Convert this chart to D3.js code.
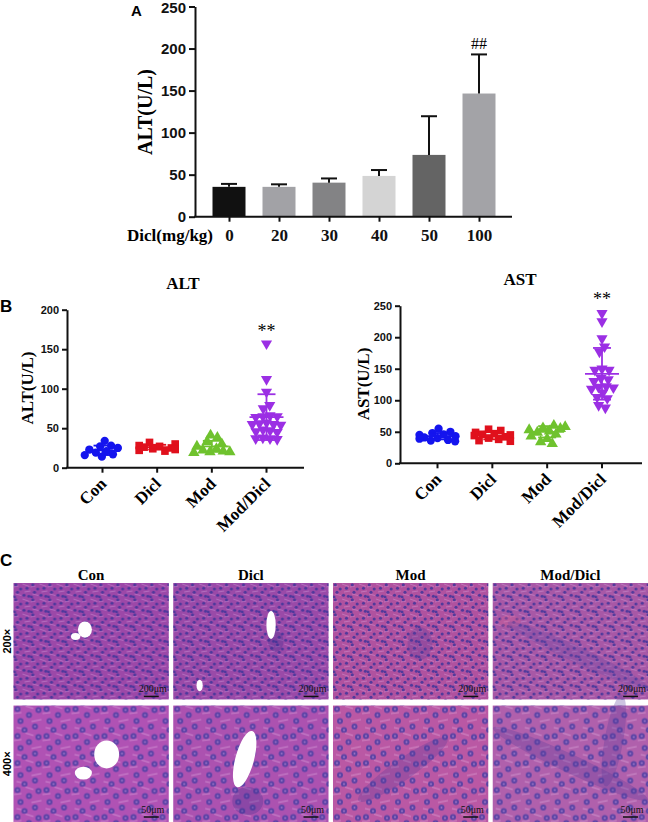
<!DOCTYPE html>
<html>
<head>
<meta charset="utf-8">
<script src="https://cdn.jsdelivr.net/npm/d3@7"></script>
<style>
body { margin: 0; background: #fff; }
svg { display: block; }
</style>
</head>
<body>
<script>
// ---- data ----
// Panel A: ALT by diclofenac dose
const doses = ["0", "20", "30", "40", "50", "100"];
const altDoseMean = [35.5, 35.5, 40.5, 48.5, 73.5, 146.5];
const altDoseSd = [3.5, 3, 5, 7, 46, 46.5];
const doseColors = ["#111111", "#a2a2a6", "#838385", "#d4d4d4", "#646464", "#a3a3a7"];

// Panel B: groups
const groups = ["Con", "Dicl", "Mod", "Mod/Dicl"];
const groupColors = ["#1414ee", "#e0101c", "#6fc22e", "#9b2fe4"];

const altCon = [34, 28, 27, 25, 23, 21, 19, 17, 16, 14];
const altDicl = [32, 30, 28, 27, 26, 25, 24, 23, 22, 21];
const altMod = [41, 38, 33, 30, 27, 24, 22, 21, 20, 20, 19];
const altModDicl = [157, 112, 96, 79, 75, 66, 65, 65, 64, 57, 56, 55, 55, 54, 48, 47, 46, 45, 38, 37, 37, 36];
const altMean = [22, 26, 27, 64];
const altSd = [6, 3, 7, 29];

const astCon = [55, 50, 48, 46, 45, 43, 41, 40, 39, 37, 36, 35];
const astDicl = [54, 52, 49, 47, 46, 45, 44, 42, 40, 38, 36, 35];
const astMod = [60, 58, 56, 55, 53, 51, 49, 46, 43, 39, 34, 31];
const astModDicl = [238, 225, 198, 185, 177, 150, 148, 148, 135, 133, 130, 122, 121, 120, 118, 112, 105, 103, 92, 88];
const astMean = [43, 44, 50, 142];
const astSd = [5, 6, 9, 41];

// Panel C: HE images (magnification rows)
const mags = ["200\u00d7", "400\u00d7"];
const scaleLabels = ["200\u03bcm", "50\u03bcm"];
const tissueBase = [
  ["#9c48a8", "#9a4aa8", "#b0529f", "#a858a6"],
  ["#b052b4", "#ac52b0", "#ba58a4", "#b060ac"]
];

const serif = "'Liberation Serif', 'Times New Roman', serif";
const sans = "'Liberation Sans', Arial, sans-serif";

const width = 648, height = 822;
const svg = d3.select("body").append("svg")
    .attr("width", width)
    .attr("height", height)
    .attr("viewBox", [0, 0, width, height]);

function styleAxis(ax, size) {
    ax.selectAll("path, line").attr("stroke", "#111").attr("stroke-width", 2);
    ax.selectAll("text")
        .style("font-family", sans).style("font-weight", "bold")
        .style("font-size", size + "px").attr("fill", "#111");
}

// ---- Panel A ----
const xA = d3.scalePoint().domain(doses).range([229, 479]);
const yA = d3.scaleLinear().domain([0, 250]).range([216.7, 6.5]);
const barW = 33;

svg.append("g").selectAll("rect")
    .data(doses)
    .enter().append("rect")
    .attr("x", d => xA(d) - barW / 2)
    .attr("y", (d, i) => yA(altDoseMean[i]))
    .attr("width", barW)
    .attr("height", (d, i) => yA(0) - yA(altDoseMean[i]))
    .attr("fill", (d, i) => doseColors[i]);

const errA = svg.append("g").attr("stroke", "#111").attr("stroke-width", 2);
doses.forEach((d, i) => {
    const top = yA(altDoseMean[i] + altDoseSd[i]);
    errA.append("line").attr("x1", xA(d)).attr("x2", xA(d))
        .attr("y1", yA(altDoseMean[i])).attr("y2", top);
    errA.append("line").attr("x1", xA(d) - 8).attr("x2", xA(d) + 8)
        .attr("y1", top).attr("y2", top);
});

const axA = svg.append("g").attr("transform", "translate(195,0)")
    .call(d3.axisLeft(yA).tickValues([0, 50, 100, 150, 200, 250]).tickSize(6).tickSizeOuter(0).tickPadding(3));
styleAxis(axA, 15);
axA.selectAll("text").filter(d => d === 250).attr("dy", "0.42em");

svg.append("line").attr("x1", 194).attr("x2", 512)
    .attr("y1", yA(0)).attr("y2", yA(0)).attr("stroke", "#111").attr("stroke-width", 2);
const axAx = svg.append("g").attr("transform", `translate(0,${yA(0)})`)
    .call(d3.axisBottom(xA).tickSize(5).tickPadding(7));
axAx.select(".domain").remove();
styleAxis(axAx, 17);
axAx.selectAll("text").style("font-family", serif);

svg.append("text").attr("x", 213).attr("y", 241).attr("text-anchor", "end")
    .style("font-family", serif).style("font-weight", "bold").style("font-size", "17px")
    .text("Dicl(mg/kg)");
svg.append("text").attr("x", xA("100")).attr("y", 48.5).attr("text-anchor", "middle")
    .style("font-family", serif).style("font-size", "16px").text("##");
svg.append("text").attr("transform", "translate(151.5,112) rotate(-90)").attr("text-anchor", "middle")
    .style("font-family", serif).style("font-weight", "bold").style("font-size", "20px")
    .text("ALT(U/L)");
svg.append("text").attr("x", 131).attr("y", 16)
    .style("font-family", sans).style("font-weight", "bold").style("font-size", "15px").text("A");

// ---- Panel B ----
const shapes = [d3.symbolCircle, d3.symbolSquare, d3.symbolTriangle, d3.symbolTriangle];
const shapeSizes = [54, 58, 56, 54];

// spread points sideways like a column scatter, with a small fixed-y force layout
function swarm(values, cx, y, r, maxOff) {
    const nodes = values.map((v, i) => ({
        v: v,
        x: cx + (i % 2 ? 1 : -1) * (0.5 + i * 0.25),
        y: y(v),
        fy: y(v)
    }));
    const sim = d3.forceSimulation(nodes)
        .force("x", d3.forceX(cx).strength(0.1))
        .force("collide", d3.forceCollide(r).iterations(3))
        .stop();
    for (let k = 0; k < 300; k++) sim.tick();
    nodes.forEach(d => { d.x = Math.max(cx - maxOff, Math.min(cx + maxOff, d.x)); });
    return nodes;
}

function scatterPanel(o) {
    const g = svg.append("g");
    const y = d3.scaleLinear().domain([0, o.max]).range([o.y0, o.y1]);
    const x = d3.scalePoint().domain(groups).range(o.xr);

    o.series.forEach((vals, i) => {
        const cx = x(groups[i]);
        const nodes = swarm(vals, cx, y, 3.6, 18);
        g.append("g").selectAll("path")
            .data(nodes)
            .enter().append("path")
            .attr("d", d3.symbol().type(shapes[i]).size(shapeSizes[i]))
            .attr("transform", d => `translate(${d.x},${d.y})` + (i === 3 ? " rotate(180)" : ""))
            .attr("fill", groupColors[i]);

        const m = o.mean[i], s = o.sd[i];
        const eg = g.append("g").attr("stroke", groupColors[i]).attr("stroke-width", 1.8);
        eg.append("line").attr("x1", cx - 17).attr("x2", cx + 17).attr("y1", y(m)).attr("y2", y(m));
        eg.append("line").attr("x1", cx).attr("x2", cx).attr("y1", y(m - s)).attr("y2", y(m + s));
        [m - s, m + s].forEach(v => {
            eg.append("line").attr("x1", cx - 9).attr("x2", cx + 9).attr("y1", y(v)).attr("y2", y(v));
        });
    });

    const ay = g.append("g").attr("transform", `translate(${o.ax},0)`)
        .call(d3.axisLeft(y).tickValues(o.ticks).tickSize(5).tickSizeOuter(0).tickPadding(3));
    styleAxis(ay, 11);

    g.append("line").attr("x1", o.ax - 1).attr("x2", o.axEnd)
        .attr("y1", y(0)).attr("y2", y(0)).attr("stroke", "#111").attr("stroke-width", 2);
    g.append("g").selectAll("line")
        .data(groups)
        .enter().append("line")
        .attr("x1", d => x(d)).attr("x2", d => x(d))
        .attr("y1", y(0)).attr("y2", y(0) + 5)
        .attr("stroke", "#111").attr("stroke-width", 2);

    g.append("g").selectAll("text")
        .data(groups)
        .enter().append("text")
        .attr("transform", d => `translate(${x(d) + 5},${y(0) + 17}) rotate(-45)`)
        .attr("text-anchor", "end")
        .style("font-family", serif).style("font-weight", "bold").style("font-size", "17px")
        .text(d => d);

    g.append("text").attr("x", o.titleX).attr("y", o.titleY).attr("text-anchor", "middle")
        .style("font-family", serif).style("font-weight", "bold").style("font-size", "17px")
        .text(o.title);
    g.append("text").attr("transform", `translate(${o.ylabX},${o.ylabY}) rotate(-90)`)
        .attr("text-anchor", "middle")
        .style("font-family", serif).style("font-weight", "bold").style("font-size", "17px")
        .text(o.title + "(U/L)");
    g.append("text").attr("x", x("Mod/Dicl")).attr("y", o.starY).attr("text-anchor", "middle")
        .style("font-family", serif).style("font-size", "18px").text("**");
}

scatterPanel({
    title: "ALT", max: 200, ticks: [0, 50, 100, 150, 200],
    y0: 467.7, y1: 309.7, xr: [102.5, 266.5], ax: 67, axEnd: 304,
    series: [altCon, altDicl, altMod, altModDicl], mean: altMean, sd: altSd,
    titleX: 183, titleY: 289, ylabX: 33, ylabY: 388, starY: 337
});
scatterPanel({
    title: "AST", max: 250, ticks: [0, 50, 100, 150, 200, 250],
    y0: 463.3, y1: 305.7, xr: [437.5, 602], ax: 400, axEnd: 642,
    series: [astCon, astDicl, astMod, astModDicl], mean: astMean, sd: astSd,
    titleX: 520, titleY: 285, ylabX: 369, ylabY: 384, starY: 305
});

svg.append("text").attr("x", 0).attr("y", 312)
    .style("font-family", sans).style("font-weight", "bold").style("font-size", "17px").text("B");

// ---- Panel C ----
const xC = d3.scaleBand().domain(groups).range([13.5, 648]).paddingInner(0.028);
const yC = d3.scaleBand().domain(mags).range([583, 822]).paddingInner(0.05);

const defs = svg.append("defs");
// small tissue tiles: light sinusoid streaks and nuclei
const p200 = defs.append("pattern").attr("id", "p200").attr("patternUnits", "userSpaceOnUse")
    .attr("width", 17).attr("height", 15);
p200.append("path").attr("d", "M0,4 L5,3 M9,1 L16,3.5 M2,11 L8,12.5 M11,9 L17,8")
    .attr("stroke", "rgba(235,190,240,0.45)").attr("stroke-width", 0.8).attr("fill", "none");
[[2.3, 1.8], [7.2, 6.0], [13.5, 5.2], [4.0, 9.3], [10.5, 12.2], [15.4, 13.3], [1.0, 14.0]].forEach(c => {
    p200.append("circle").attr("cx", c[0]).attr("cy", c[1]).attr("r", 1.55).attr("fill", "#41359a");
});

const p400 = defs.append("pattern").attr("id", "p400").attr("patternUnits", "userSpaceOnUse")
    .attr("width", 29).attr("height", 27);
p400.append("path").attr("d", "M0,8 L8,7 M12,0.5 L20,3 M18,16 L28,14 M3,22 L12,24")
    .attr("stroke", "rgba(240,200,240,0.5)").attr("stroke-width", 1.1).attr("fill", "none");
[[4, 3.6], [15.5, 9.5], [25, 4.5], [7, 15.5], [21.5, 21], [11, 24.5]].forEach(c => {
    p400.append("circle").attr("cx", c[0]).attr("cy", c[1]).attr("r", 3).attr("fill", "#4c3fa4");
    p400.append("circle").attr("cx", c[0]).attr("cy", c[1]).attr("r", 1).attr("fill", "#9a7ccc");
});
defs.append("clipPath").attr("id", "pageClip")
    .append("rect").attr("width", width).attr("height", height);

// decorative tissue features, as fractions of each image
const features = [
    { g: "Con", r: 0, cx: 0.46, cy: 0.40, rx: 0.045, ry: 0.07, fill: "#ffffff" },
    { g: "Con", r: 0, cx: 0.40, cy: 0.46, rx: 0.03, ry: 0.03, fill: "#ffffff" },
    { g: "Dicl", r: 0, cx: 0.66, cy: 0.50, rx: 0.05, ry: 0.09, fill: "#3e3090" },
    { g: "Dicl", r: 0, cx: 0.63, cy: 0.36, rx: 0.03, ry: 0.12, fill: "#ffffff" },
    { g: "Dicl", r: 0, cx: 0.17, cy: 0.88, rx: 0.02, ry: 0.05, fill: "#ffffff" },
    { g: "Mod", r: 0, cx: 0.56, cy: 0.52, rx: 0.08, ry: 0.14, fill: "#5a3a9a" },
    { g: "Mod/Dicl", r: 0, cx: 0.11, cy: 0.33, rx: 0.07, ry: 0.055, fill: "#e0608c" },
    { g: "Mod/Dicl", r: 0, cx: 0.55, cy: 0.62, rx: 0.5, ry: 0.07, fill: "#6a4aa6", rot: 25 },
    { g: "Con", r: 1, cx: 0.60, cy: 0.42, rx: 0.08, ry: 0.12, fill: "#ffffff" },
    { g: "Con", r: 1, cx: 0.45, cy: 0.58, rx: 0.055, ry: 0.055, fill: "#ffffff" },
    { g: "Dicl", r: 1, cx: 0.48, cy: 0.82, rx: 0.1, ry: 0.12, fill: "#3e3090" },
    { g: "Dicl", r: 1, cx: 0.46, cy: 0.46, rx: 0.06, ry: 0.25, fill: "#ffffff", rot: 15 },
    { g: "Mod", r: 1, cx: 0.45, cy: 0.55, rx: 0.35, ry: 0.09, fill: "#5a3a9a", rot: -35 },
    { g: "Mod/Dicl", r: 1, cx: 0.5, cy: 0.5, rx: 0.55, ry: 0.08, fill: "#5a3a9a", rot: 25 },
    { g: "Mod/Dicl", r: 1, cx: 0.78, cy: 0.3, rx: 0.06, ry: 0.4, fill: "#5a3a9a", rot: 10 }
];

const cells = [];
mags.forEach((m, r) => groups.forEach((grp, c) => cells.push({ m, r, grp, c })));

const cellG = svg.append("g").attr("clip-path", "url(#pageClip)").selectAll("g")
    .data(cells)
    .enter().append("g")
    .attr("transform", d => `translate(${xC(d.grp)},${yC(d.m)})`);

const cw = xC.bandwidth(), ch = yC.bandwidth();
cellG.append("rect").attr("width", cw).attr("height", ch).attr("fill", d => tissueBase[d.r][d.c]);
cellG.append("rect").attr("width", cw).attr("height", ch)
    .attr("fill", d => d.r === 0 ? "url(#p200)" : "url(#p400)").attr("opacity", 0.85);
cellG.each(function(d) {
    const sel = d3.select(this);
    features.filter(f => f.g === d.grp && f.r === d.r).forEach(f => {
        sel.append("ellipse")
            .attr("transform", `translate(${f.cx * cw},${f.cy * ch}) rotate(${f.rot || 0})`)
            .attr("rx", f.rx * cw).attr("ry", f.ry * ch)
            .attr("fill", f.fill).attr("opacity", f.fill === "#ffffff" ? 1 : 0.3);
    });
});
cellG.append("text")
    .attr("x", cw - 16).attr("y", d => d.r === 0 ? ch - 7 : ch - 9)
    .attr("text-anchor", "middle")
    .style("font-family", serif).style("font-size", "10px").attr("fill", "#111")
    .text(d => scaleLabels[d.r]);
cellG.append("line")
    .attr("x1", cw - 25).attr("x2", cw - 10)
    .attr("y1", d => d.r === 0 ? ch - 3 : ch - 5).attr("y2", d => d.r === 0 ? ch - 3 : ch - 5)
    .attr("stroke", "#111").attr("stroke-width", 1.5);

svg.append("g").selectAll("text")
    .data(groups)
    .enter().append("text")
    .attr("x", d => xC(d) + cw / 2).attr("y", 580)
    .attr("text-anchor", "middle")
    .style("font-family", serif).style("font-weight", "bold").style("font-size", "15px")
    .text(d => d);

svg.append("g").selectAll("text")
    .data(mags)
    .enter().append("text")
    .attr("transform", d => `translate(10.5,${yC(d) + ch / 2}) rotate(-90)`)
    .attr("text-anchor", "middle")
    .style("font-family", sans).style("font-weight", "bold").style("font-size", "11px")
    .text(d => d);

svg.append("text").attr("x", 0).attr("y", 566)
    .style("font-family", sans).style("font-weight", "bold").style("font-size", "17px").text("C");
</script>
</body>
</html>
